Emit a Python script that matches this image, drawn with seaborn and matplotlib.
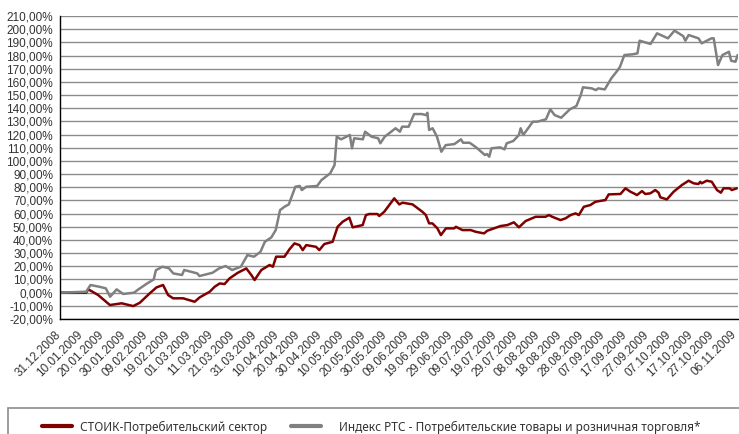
import pandas as pd
import seaborn as sns
import matplotlib.pyplot as plt
import matplotlib.dates as mdates
import matplotlib.transforms as mtransforms
from matplotlib.patches import Rectangle
from matplotlib.ticker import FuncFormatter, MultipleLocator

START = "2008-12-31"

# days since 31.12.2008 and value in %
stoik_days = [0, 12, 13, 17.5, 22.9, 28.3, 33.6, 36.6, 41.2, 44.3, 47.3, 49.6, 51.9, 56.5, 61.8,
              64.1, 68.7, 71, 73.3, 75.5, 77.8, 81.6, 85.5, 87.8, 89.3, 92.4, 96.2, 97.7, 99.2,
              103, 105.3, 107.6, 109.9, 111.4, 113, 117.5, 119, 121.3, 125.1, 127.4, 129.7, 132.8,
              134.3, 138.9, 140.4, 141.9, 145.7, 146.5, 148.8, 153.4, 155.7, 157.2, 161.8, 166.3,
              167.9, 169.4, 170.9, 173.2, 174.8, 177.1, 180.9, 181.7, 184.7, 188.5, 190.8, 194.6,
              196.1, 202.2, 205.3, 208.3, 210.6, 213.7, 218.3, 222.8, 224.4, 225.9, 229.7, 232,
              234.3, 236.6, 238.1, 240.4, 243.4, 245.7, 250.3, 251.8, 257.2, 259.5, 261.8, 263.3,
              264.8, 267.1, 268.6, 270.9, 273.2, 274.7, 275.5, 278.5, 281.6, 285.4, 288.5, 290.8,
              293, 293.8, 294.5, 296.8, 299.1, 301.5, 303.3, 304.5, 307.3, 308.3, 310.6]
stoik_vals = [0, 0, 2.5, -1.8, -9.4, -8.1, -10.2, -7.7, -0.5, 4, 5.8, -1.8, -4.3, -4.3, -6.9,
              -3.6, 0.7, 4.5, 7, 6.5, 10.8, 15.1, 18.4, 13.4, 9.6, 17.2, 21, 19.7, 27.3,
              27.3, 32.9, 37.4, 36.1, 32.3, 36.1, 34.8, 32.3, 36.9, 38.6, 50, 53.8, 56.9,
              49.6, 51.3, 58.9, 59.7, 59.7, 58.2, 61.4, 71.6, 67, 68.3, 67, 61.4,
              58.9, 52.6, 52.6, 48.8, 43.7, 48.8, 48.8, 50, 47.5, 47.5, 46.2, 45,
              47, 50.6, 51.3, 53.4, 49.6, 54.4, 57.6, 57.6, 58.9, 57.6, 55.1, 56.4,
              58.9, 60.2, 58.9, 65.2, 66.5, 69, 70.3, 74.6, 74.9, 79.2, 76.6, 75.4,
              74.1, 77.1, 74.9, 75.4, 77.9, 75.9, 72.4, 70.8, 76.6, 81.7, 85, 83,
              82.5, 84.2, 83, 85, 84.2, 77.9, 75.9, 79.2, 79.2, 77.9, 79.2]

rts_days = [0, 12, 14, 18, 21, 23, 26, 29, 34, 36, 40, 43, 44, 47, 50, 52, 56, 57, 63, 64, 70,
            73, 76, 79, 83, 86, 89, 92, 94, 97, 99, 101, 103, 105, 108, 110, 111, 113, 118, 120,
            124, 126, 127, 129, 133, 134, 135, 139, 140, 143, 146, 147, 149, 152, 154, 156, 157,
            160, 162.5, 166, 168, 168.6, 169.4, 171, 173, 175, 177, 181, 184, 185, 188, 191, 195,
            196, 197, 198, 202, 204, 205, 208, 210.6, 211.4, 212.6, 217, 219, 223, 225, 227, 230,
            234, 237, 239, 240, 244, 246, 247, 250, 253, 256, 257, 259, 263, 265, 266, 271, 274,
            279, 282, 286, 287, 288.5, 293, 294.5, 299, 300, 302, 304, 307, 308, 310, 311]
rts_vals = [0, 0.7, 5.8, 4.5, 3.3, -3.1, 2.5, -1, 0, 2.5, 7, 10, 17, 19.7, 18.5, 14.6, 13.4, 17.2,
            14.6, 12.6, 15.1, 18.4, 20.2, 17.2, 19.7, 28.5, 27.3, 31, 38.6, 42, 47.5, 62.7, 65.2,
            67, 80.4, 81, 77.9, 80.4, 81, 85.5, 90.6, 96.9, 118.4, 116.4, 119.7, 109.6, 117.2,
            116.4, 122.2, 118.4, 117.2, 113.4, 118.4, 122.2, 124.8, 122.2, 126, 126, 135.6, 135.6,
            134.8, 136.6, 123.5, 124.8, 118.4, 107, 112, 112.8, 116.4, 113.8, 113.8, 110.3, 104.5,
            105.2, 103.2, 109.6, 110.3, 108.8, 113.4, 115.1, 119.7, 124.8, 119.7, 129.8, 129.8,
            131.6, 139.2, 134.8, 132.8, 139.2, 141.7, 150, 155.9, 155.1, 153.8, 155.1, 154.3,
            162.7, 169, 171.5, 180.4, 181, 181.7, 191.3, 188.8, 196.9, 193.1, 198.9, 194.8,
            191.3, 195.6, 193.1, 189.3, 193.1, 193.1, 172.8, 180.4, 182.9, 176.1, 175.3, 180.4]

series_names = ["СТОИК-Потребительский сектор",
                "Индекс РТС - Потребительские товары и розничная торговля*"]
colors = ["#800000", "#808080"]

base = pd.Timestamp(START)
df = pd.concat([
    pd.DataFrame({"date": base + pd.to_timedelta(stoik_days, unit="D"),
                  "value": stoik_vals, "series": series_names[0]}),
    pd.DataFrame({"date": base + pd.to_timedelta(rts_days, unit="D"),
                  "value": rts_vals, "series": series_names[1]}),
])

sns.set_style("white")
plt.rcParams["font.family"] = ["Liberation Sans", "DejaVu Sans"]

fig = plt.figure(figsize=(7.39, 4.34), dpi=100)
ax = fig.add_axes([0.0812, 0.265, 0.917, 0.698])

sns.lineplot(data=df, x="date", y="value", hue="series", hue_order=series_names,
             palette=colors, linewidth=1.8, estimator=None, sort=False, ax=ax)

ax.set_ylim(-20, 210)
ax.yaxis.set_major_locator(MultipleLocator(10))
ax.yaxis.set_major_formatter(FuncFormatter(lambda v, p: f"{v:.2f}".replace(".", ",") + "%"))
ax.grid(axis="y", color="#8c8c8c", linewidth=1)
ax.set_axisbelow(True)

ticks = pd.date_range(START, periods=32, freq="10D")
ax.set_xticks(ticks)
ax.xaxis.set_major_formatter(mdates.DateFormatter("%d.%m.%Y"))
ax.set_xlim(base, base + pd.Timedelta(days=311))

ax.tick_params(axis="both", direction="out", length=4, width=1, color="black",
               labelsize=8.5, labelcolor="#333333", pad=3)
ax.tick_params(axis="y", length=3, pad=2)
shift = mtransforms.ScaledTranslation(-4 / 72, 0, fig.dpi_scale_trans)
for lab in ax.get_xticklabels():
    lab.set_rotation(45)
    lab.set_ha("right")
    lab.set_rotation_mode("anchor")
    lab.set_transform(lab.get_transform() + shift)

for side in ["top", "right"]:
    ax.spines[side].set_visible(False)
for side in ["left", "bottom"]:
    ax.spines[side].set_color("black")
    ax.spines[side].set_linewidth(1)
ax.set_xlabel("")
ax.set_ylabel("")

handles, labels = ax.get_legend_handles_labels()
ax.get_legend().remove()
fig.patches.append(Rectangle((8 / 739, -0.1), 1.0, 0.1 + 1 - 408 / 434, transform=fig.transFigure,
                             facecolor="none", edgecolor="#8c8c8c", linewidth=1.2))
legend_x = [42 / 739, 291 / 739]
legend_pad = [0.7, 1.6]
for h, lab, lx, lp in zip(handles, labels, legend_x, legend_pad):
    leg = fig.legend([h], [lab], loc="center left", bbox_to_anchor=(lx, 1 - 427 / 434),
                     frameon=False, handlelength=2.5, handletextpad=lp, borderpad=0,
                     prop={"family": "Noto Sans", "size": 8.5}, borderaxespad=0)
    for line in leg.get_lines():
        line.set_linewidth(3)
    for t in leg.get_texts():
        t.set_color("#333333")

plt.savefig("out.png", dpi=100)
